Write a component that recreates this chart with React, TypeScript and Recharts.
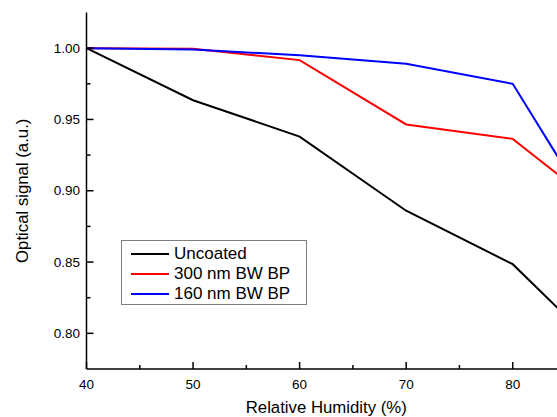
import React from 'react';
import { LineChart, Line, XAxis, YAxis, Legend, Label } from 'recharts';

// relative humidity (%) where the curves change slope
const humidity = [40, 50, 60, 70, 80, 85];
const uncoated = [1.0, 0.9635, 0.938, 0.886, 0.8485, 0.812];
const bw300 = [1.0, 0.9995, 0.9916, 0.9465, 0.9364, 0.907];
const bw160 = [1.0, 0.999, 0.995, 0.989, 0.975, 0.9145];

const xTicks = [40, 45, 50, 55, 60, 65, 70, 75, 80];
const xLabels = [40, 50, 60, 70, 80];
const yTicks = [0.8, 0.825, 0.85, 0.875, 0.9, 0.925, 0.95, 0.975, 1.0];
const yLabels = [0.8, 0.85, 0.9, 0.95, 1.0];

const series = [
    { key: 'uncoated', name: 'Uncoated', color: '#000000' },
    { key: 'bw300', name: '300 nm BW BP', color: '#ff0000' },
    { key: 'bw160', name: '160 nm BW BP', color: '#0000ff' },
];

const data = humidity.map((h, i) => ({
    h,
    uncoated: uncoated[i],
    bw300: bw300[i],
    bw160: bw160[i],
}));

const font = '"Liberation Sans", Arial, sans-serif';
const isLabel = (list: number[], v: number) => list.some((l) => Math.abs(l - v) < 1e-6);

// ticks point inward, majors longer than minors
function BottomTick({ x, y, payload }: any) {
    const major = isLabel(xLabels, payload.value);
    return (
        <g>
            <line x1={x} x2={x} y1={y} y2={y - (major ? 7 : 4)} stroke="#000" strokeWidth={1.5} />
            {major && (
                <text x={x} y={y + 20} textAnchor="middle" fontSize={13.5} fontFamily={font} fill="#000">
                    {payload.value}
                </text>
            )}
        </g>
    );
}

function TopTick({ x, y, payload }: any) {
    const major = isLabel(xLabels, payload.value);
    return <line x1={x} x2={x} y1={y} y2={y + (major ? 7 : 4)} stroke="#000" strokeWidth={1.5} />;
}

function LeftTick({ x, y, payload }: any) {
    const major = isLabel(yLabels, payload.value);
    return (
        <g>
            <line x1={x} x2={x + (major ? 7 : 4)} y1={y} y2={y} stroke="#000" strokeWidth={1.5} />
            {major && (
                <text x={x - 6.5} y={y} dy="0.34em" textAnchor="end" fontSize={13.5} fontFamily={font} fill="#000">
                    {payload.value.toFixed(2)}
                </text>
            )}
        </g>
    );
}

function LegendBox({ payload }: any) {
    const order = (v: string) => series.findIndex((s) => s.name === v);
    const items = [...(payload || [])].sort((a: any, b: any) => order(a.value) - order(b.value));
    return (
        <div
            style={{
                border: '1px solid #7f7f7f',
                width: 186,
                height: 65,
                boxSizing: 'border-box',
                paddingTop: 2.8,
                background: '#fff',
                fontFamily: font,
                fontSize: 17,
                color: '#000',
            }}
        >
            {items.map((entry: any) => (
                <div key={entry.value} style={{ display: 'flex', alignItems: 'center', height: 20 }}>
                    <span style={{ width: 38, height: 2, background: entry.color, marginLeft: 9, marginRight: 5 }} />
                    <span style={{ lineHeight: '20px' }}>{entry.value}</span>
                </div>
            ))}
        </div>
    );
}

export default function App() {
    return (
        <div style={{ position: 'fixed', left: 0, top: 0, width: 557, height: 417, overflow: 'hidden', background: '#fff' }}>
            <LineChart width={580} height={417} data={data} margin={{ top: 12.5, right: 14, bottom: 0, left: 0 }}>
                <XAxis
                    xAxisId="bottom"
                    dataKey="h"
                    type="number"
                    domain={[40, 85]}
                    allowDataOverflow
                    ticks={xTicks}
                    interval={0}
                    tickSize={0}
                    tickMargin={0}
                    tick={<BottomTick />}
                    height={48}
                    axisLine={{ stroke: '#000', strokeWidth: 1.5 }}
                >
                    <Label
                        content={({ viewBox }: any) => (
                            <text
                                x={viewBox.x + viewBox.width / 2}
                                y={viewBox.y + 43.5}
                                textAnchor="middle"
                                fontSize={16.75}
                                fontFamily={font}
                                fill="#000"
                            >
                                Relative Humidity (%)
                            </text>
                        )}
                    />
                </XAxis>
                <XAxis
                    xAxisId="top"
                    orientation="top"
                    type="number"
                    domain={[40, 85]}
                    allowDataOverflow
                    ticks={xTicks}
                    interval={0}
                    tickSize={0}
                    tickMargin={0}
                    tick={<TopTick />}
                    height={0}
                    axisLine={{ stroke: '#000', strokeWidth: 1.5 }}
                />
                <YAxis
                    type="number"
                    domain={[0.775, 1.025]}
                    allowDataOverflow
                    ticks={yTicks}
                    interval={0}
                    tickSize={0}
                    tickMargin={0}
                    tick={<LeftTick />}
                    width={86.5}
                    axisLine={{ stroke: '#000', strokeWidth: 1.5 }}
                >
                    <Label
                        content={({ viewBox }: any) => {
                            const cx = viewBox.x + 22;
                            const cy = viewBox.y + viewBox.height / 2;
                            return (
                                <text
                                    x={cx}
                                    y={cy}
                                    transform={`rotate(-90, ${cx}, ${cy})`}
                                    textAnchor="middle"
                                    dominantBaseline="central"
                                    fontSize={16.75}
                                    fontFamily={font}
                                    fill="#000"
                                >
                                    Optical signal (a.u.)
                                </text>
                            );
                        }}
                    />
                </YAxis>
                <Legend
                    layout="vertical"
                    align="center"
                    verticalAlign="middle"
                    content={<LegendBox />}
                    wrapperStyle={{ left: 121, top: 240, width: 186, height: 65 }}
                />
                {series.map((s) => (
                    <Line
                        key={s.key}
                        xAxisId="bottom"
                        type="linear"
                        dataKey={s.key}
                        name={s.name}
                        stroke={s.color}
                        strokeWidth={2}
                        dot={false}
                        activeDot={false}
                        isAnimationActive={false}
                    />
                ))}
            </LineChart>
        </div>
    );
}
